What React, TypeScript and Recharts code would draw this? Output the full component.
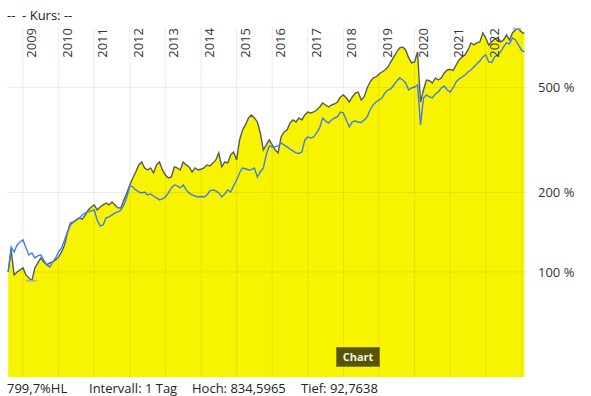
import React from 'react';
import { ComposedChart, Area, Line, XAxis, YAxis, ReferenceLine } from 'recharts';

// year gridlines (top axis labels, 2023 line has no label)
const YEARS = [2009, 2010, 2011, 2012, 2013, 2014, 2015, 2016, 2017, 2018, 2019, 2020, 2021, 2022, 2023];
const Y_TICKS = [100, 200, 500];

// monthly points starting Aug 2008, in % (start = 100)
const FUND = [
  100.0, 121.2, 97.4, 100.0, 101.8, 103.6, 97.4, 94.9, 92.8, 103.6, 108.2, 113.0, 109.1, 106.3, 108.2, 109.1, 111.0,
  114.0, 119.0, 126.6, 141.7, 153.3, 154.7, 157.4, 160.2, 158.5, 164.4, 171.7, 176.3, 179.4, 171.7, 176.3, 179.4,
  182.5, 179.4, 184.1, 179.4, 174.8, 174.8, 187.4, 199.2, 213.6, 227.0, 239.2, 254.3, 261.0, 247.7, 243.4, 247.7,
  237.1, 254.3, 261.0, 243.4, 233.0, 227.0, 229.0, 249.9, 247.7, 243.4, 261.0, 254.3, 249.9, 239.2, 247.7, 243.4,
  245.0, 247.7, 254.3, 252.1, 258.8, 265.6, 282.4, 249.9, 261.0, 258.8, 277.5, 284.8, 265.6, 316.2, 345.0, 360.4,
  383.1, 393.2, 383.1, 370.0, 336.1, 289.8, 302.7, 316.2, 302.7, 289.8, 282.4, 324.6, 339.1, 345.0, 366.7, 376.5,
  370.0, 383.1, 376.5, 393.2, 403.6, 400.1, 403.6, 410.7, 421.6, 436.5, 429.0, 421.6, 429.0, 432.8, 440.4, 460.0,
  468.0, 456.0, 440.4, 460.0, 476.3, 480.4, 448.1, 460.0, 497.5, 524.2, 542.8, 547.6, 562.1, 572.0, 582.0, 597.5,
  624.5, 652.3, 681.4, 705.6, 711.8, 693.4, 646.7, 619.1, 624.5, 681.4, 440.4, 488.9, 533.4, 530.0, 519.7, 542.8,
  533.4, 542.8, 567.0, 582.0, 585.0, 580.0, 608.0, 635.6, 652.3, 663.8, 693.4, 737.1, 724.3, 737.1, 743.5, 804.2,
  769.9, 724.3, 743.5, 763.2, 769.9, 743.5, 756.6, 790.3, 756.6, 804.2, 825.5, 834.6, 811.2, 799.7,
];

const BENCH = [
  100.0, 124.4, 119.0, 126.6, 129.9, 132.2, 123.3, 116.0, 118.0, 113.0, 115.0, 116.0, 111.0, 106.3, 104.5, 109.1, 113.0,
  119.0, 123.3, 132.2, 141.7, 150.7, 154.7, 157.4, 160.2, 164.4, 167.3, 168.8, 170.3, 171.7, 157.4, 149.4, 150.7,
  160.2, 161.6, 164.4, 167.3, 168.8, 171.7, 179.4, 192.4, 211.8, 209.9, 204.5, 200.9, 199.2, 200.9, 195.7, 197.5,
  194.0, 190.7, 187.4, 189.0, 192.4, 199.2, 208.1, 213.6, 212.0, 208.1, 213.6, 204.5, 199.2, 195.7, 194.0, 192.4,
  193.0, 192.4, 195.7, 202.7, 204.5, 202.7, 199.2, 192.4, 197.5, 204.5, 200.9, 211.8, 223.1, 237.1, 247.7, 246.0,
  243.4, 244.0, 247.7, 229.0, 239.2, 247.7, 277.5, 300.1, 297.5, 298.0, 300.1, 308.0, 302.7, 297.5, 292.3, 287.3,
  282.4, 281.0, 284.8, 316.2, 324.6, 321.8, 324.6, 336.1, 351.1, 383.1, 373.2, 366.7, 376.5, 383.1, 386.4, 403.6,
  400.1, 376.5, 354.2, 370.0, 373.2, 370.0, 368.0, 376.5, 386.4, 410.7, 429.0, 440.4, 448.1, 456.0, 476.3, 488.9,
  493.2, 510.7, 528.8, 542.8, 533.4, 519.7, 488.9, 497.5, 501.9, 510.7, 360.4, 456.0, 468.0, 460.0, 456.0, 472.1,
  480.4, 497.5, 506.3, 488.9, 480.4, 497.5, 524.2, 538.1, 547.6, 557.2, 572.0, 582.0, 597.5, 613.6, 630.0, 652.3,
  663.8, 624.5, 622.0, 652.3, 663.8, 681.4, 711.8, 737.1, 730.7, 769.9, 756.6, 724.3, 693.4, 681.4,
];

const START_YEAR = 2008;
const START_MONTH = 8;

const data = FUND.map((fund, i) => ({
  t: START_YEAR + (START_MONTH - 1 + i) / 12,
  fund,
  bench: BENCH[i],
}));

const FONT = '"Open Sans", "Noto Sans", sans-serif';
const GRID = 'rgba(0,0,0,0.075)';

function YearLabel(props: any) {
  const { viewBox, value } = props;
  if (!viewBox) return null;
  const x = viewBox.x + 8;
  const y = viewBox.y + 1;
  return (
    <text
      x={x}
      y={y}
      transform={`rotate(-90 ${x} ${y})`}
      textAnchor="end"
      dominantBaseline="central"
      fontSize={13}
      fontFamily={FONT}
      fill="#333"
    >
      {value}
    </text>
  );
}

export default function App() {
  return (
    <div style={{ position: 'absolute', left: 0, top: 0, width: 591, height: 396, background: '#fff', fontFamily: FONT }}>
      <div style={{ position: 'absolute', left: 7, top: 6, fontSize: 13, color: '#222', whiteSpace: 'pre' }}>--  - Kurs: --</div>
      <ComposedChart width={591} height={396} data={data} margin={{ top: 27, right: 5, bottom: 19, left: 7 }}>
        <XAxis dataKey="t" type="number" domain={[2008.55, 2023.13]} allowDataOverflow hide />
        <YAxis
          orientation="right"
          scale="log"
          domain={[40, 847]}
          allowDataOverflow
          ticks={Y_TICKS}
          tickFormatter={(v: number) => `${v} %`}
          tickLine={false}
          axisLine={false}
          width={60}
          tick={{ fill: '#333', fontSize: 13, fontFamily: FONT, dx: 4 }}
        />
        <Area
          type="linear"
          dataKey="fund"
          stroke="#595959"
          strokeWidth={1.4}
          fill="#f8f400"
          fillOpacity={1}
          baseValue="dataMin"
          isAnimationActive={false}
          dot={false}
          activeDot={false}
        />
        <Line
          type="linear"
          dataKey="bench"
          stroke="#3f7eee"
          strokeWidth={1.4}
          dot={false}
          activeDot={false}
          isAnimationActive={false}
        />
        {YEARS.map((yr) => (
          <ReferenceLine
            key={yr}
            x={yr}
            stroke={GRID}
            label={yr < 2023 ? <YearLabel value={String(yr)} /> : undefined}
          />
        ))}
        {Y_TICKS.map((v) => (
          <ReferenceLine key={v} y={v} stroke={GRID} />
        ))}
        <ReferenceLine segment={[{ x: 2009.08, y: 92.76 }, { x: 2009.39, y: 92.76 }]} stroke="#a3aad0" strokeWidth={1.5} />
        <ReferenceLine segment={[{ x: 2022.76, y: 834.6 }, { x: 2022.99, y: 834.6 }]} stroke="#a3aad0" strokeWidth={1.5} />
      </ComposedChart>
      <div
        style={{
          position: 'absolute',
          left: 336,
          top: 347,
          width: 44,
          height: 20,
          boxSizing: 'border-box',
          background: 'rgba(0,0,0,0.65)',
          border: '1px solid rgba(255,255,255,0.25)',
          color: '#f2f2f2',
          fontSize: 11,
          fontWeight: 700,
          lineHeight: '18px',
          textAlign: 'center',
        }}
      >
        Chart
      </div>
      <div style={{ position: 'absolute', left: 7, top: 379, fontSize: 13, color: '#222', whiteSpace: 'pre' }}>
        <span style={{ position: 'absolute', left: 0 }}>799,7%HL</span>
        <span style={{ position: 'absolute', left: 82 }}>Intervall: 1 Tag</span>
        <span style={{ position: 'absolute', left: 185 }}>Hoch: 834,5965</span>
        <span style={{ position: 'absolute', left: 294 }}>Tief: 92,7638</span>
      </div>
    </div>
  );
}
